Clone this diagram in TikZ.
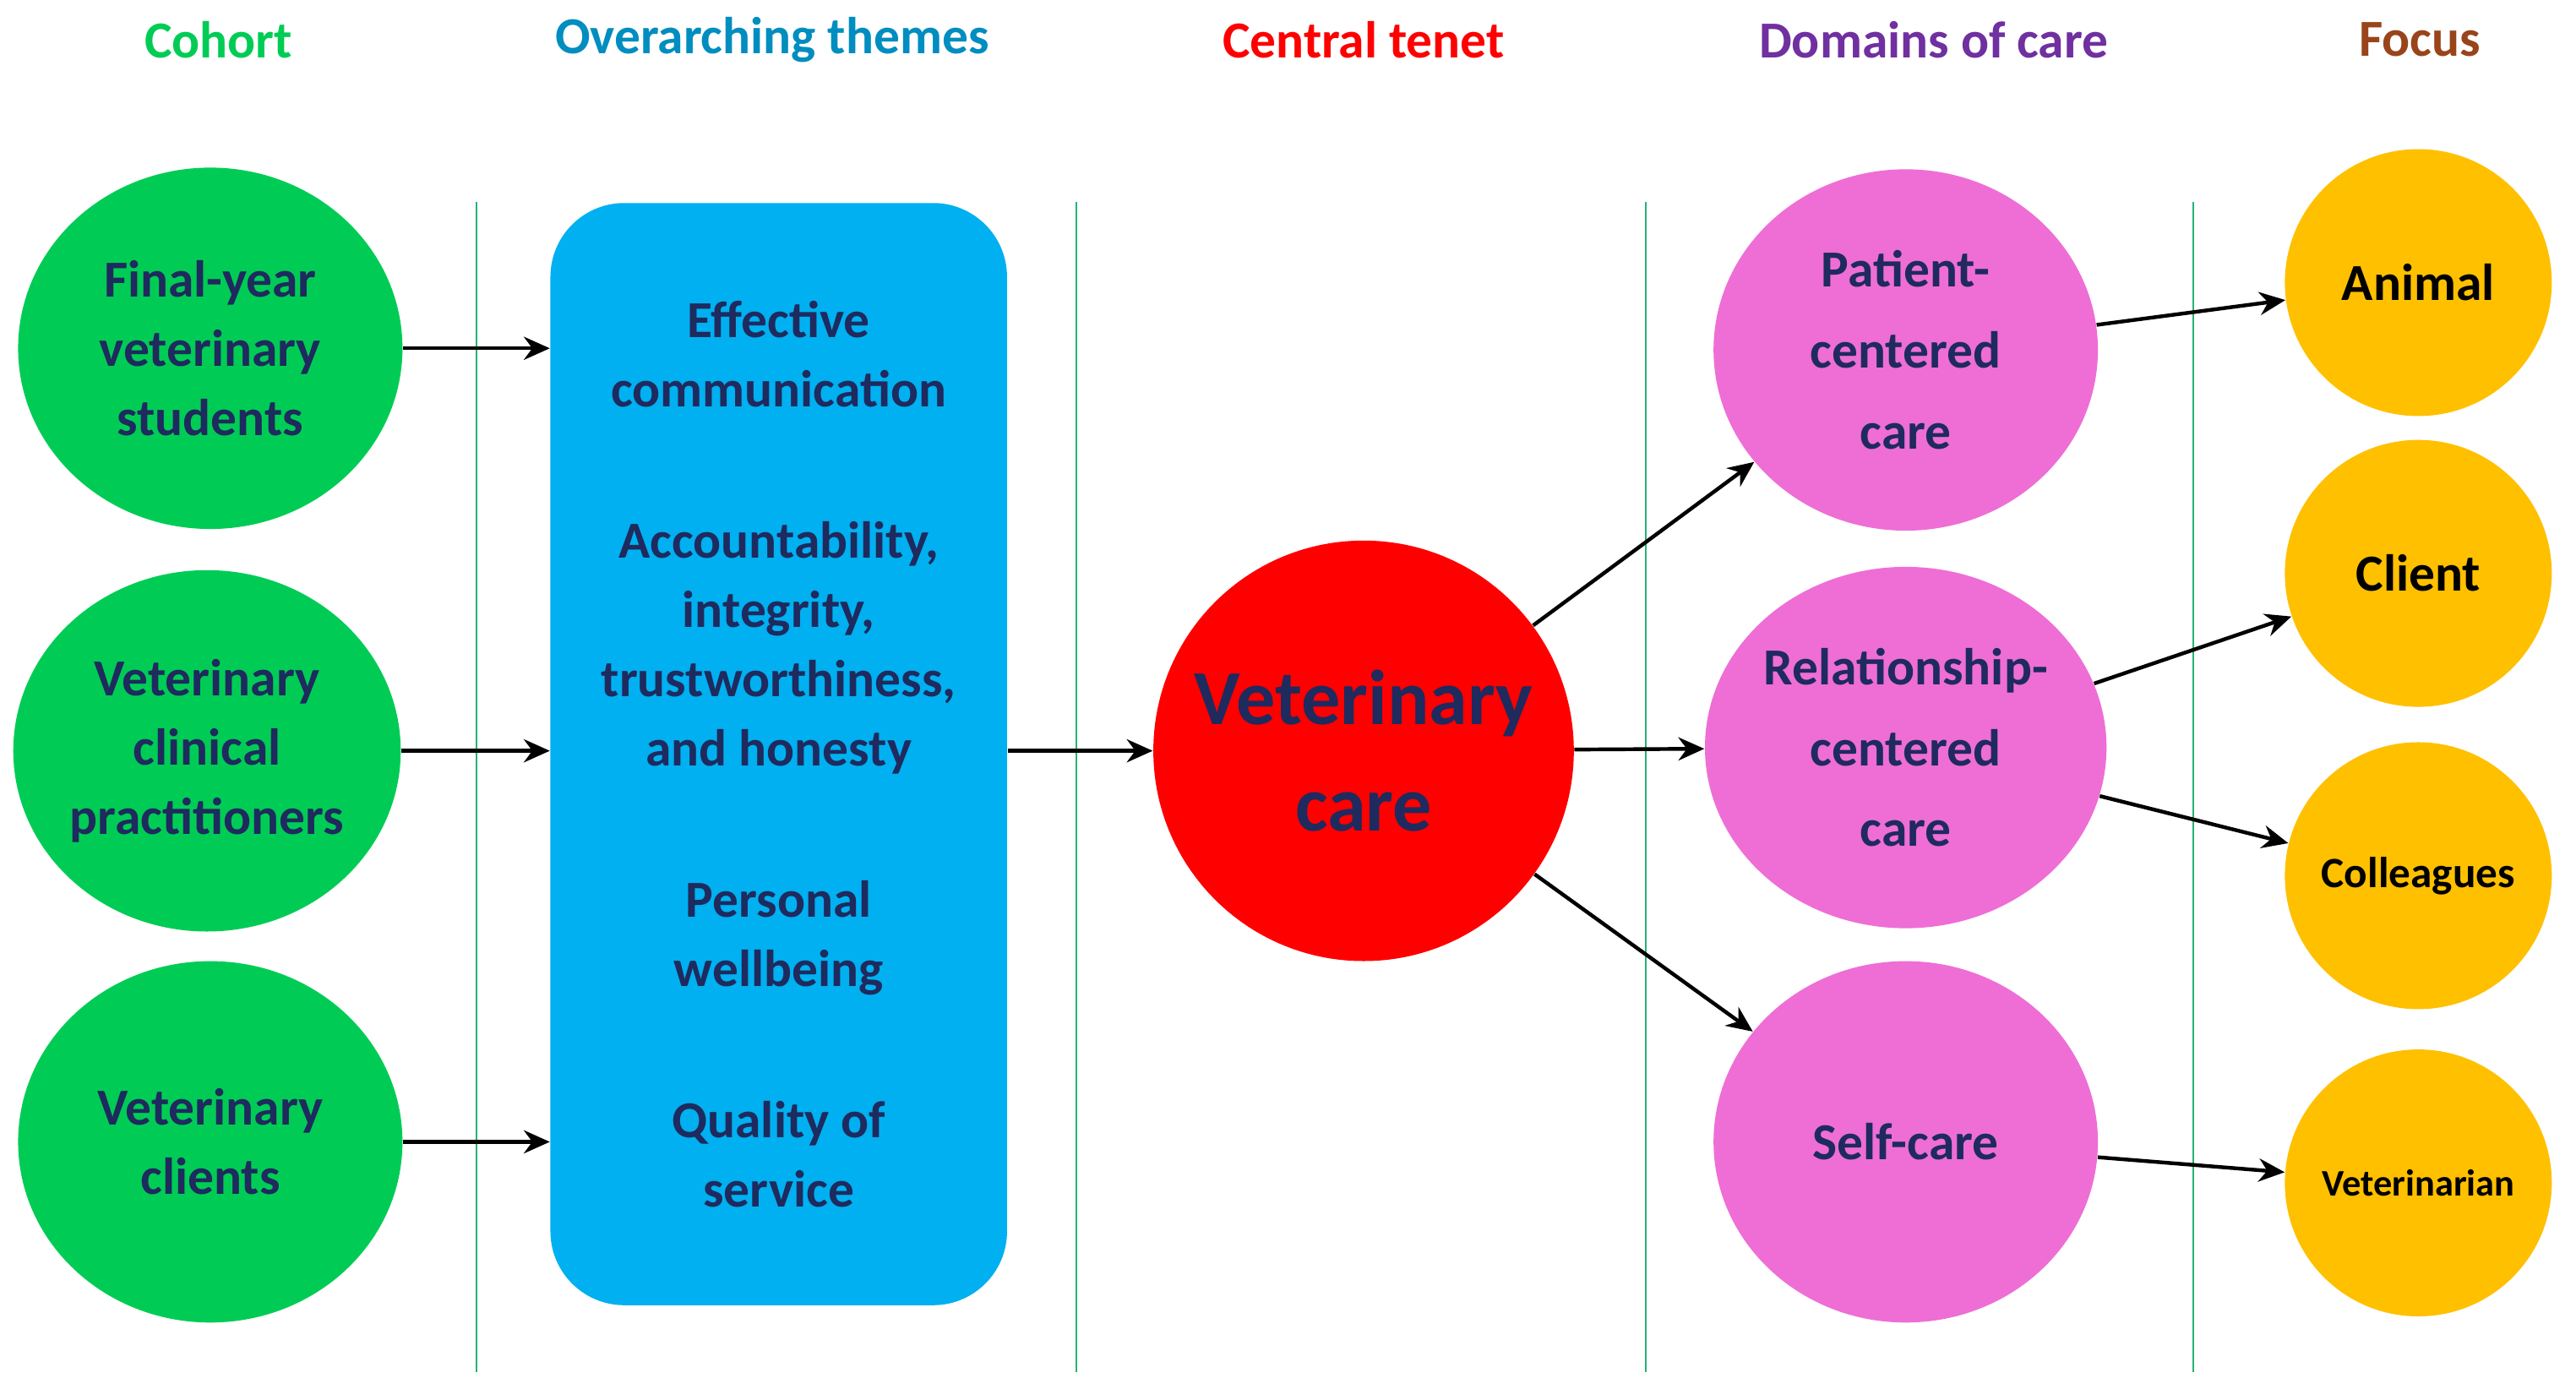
\documentclass[tikz,border=0pt]{standalone}
\usepackage{fontspec}
\setmainfont{Carlito}
\usetikzlibrary{arrows.meta, shapes, positioning}
\definecolor{cgreen}{HTML}{00CC55}
\definecolor{cblue}{HTML}{00B0F0}
\definecolor{cpink}{HTML}{EE6ED6}
\definecolor{corange}{HTML}{FFC000}
\definecolor{cnavy}{HTML}{1F2A5E}
\definecolor{cpurple}{HTML}{7030A0}
\definecolor{cbrown}{HTML}{99441A}
\definecolor{cline}{HTML}{22B573}
\begin{document}
\begin{tikzpicture}[x=0.02cm,y=-0.02cm,
  txt/.style={font=\fontsize{18}{24}\selectfont\bfseries, text=cnavy, align=center},
  head/.style={font=\fontsize{18}{22}\selectfont\bfseries},
  cohort/.style={ellipse, fill=cgreen, minimum width=4.68cm, minimum height=4.4cm, inner sep=0pt, txt},
  caredomain/.style={ellipse, fill=cpink, minimum width=4.68cm, minimum height=4.4cm, inner sep=0pt, txt, font=\fontsize{18}{28}\selectfont\bfseries},
  focus/.style={circle, fill=corange, minimum size=3.25cm, inner sep=0pt, txt, text=black},
  arr/.style={-{Stealth[length=9pt,width=8pt]}, line width=1.3pt},
  sep/.style={cline, line width=0.6pt}]
\useasboundingbox (0,0) rectangle (1568,852);
% headings
\node[head, text=cgreen] (h1) at (133,24) {Cohort};
\node[head, text=cblue!80!black] (h2) at (470,24) {Overarching themes};
\node[head, text=red] (h3) at (830,24) {Central tenet};
\node[head, text=cpurple] (h4) at (1177,24) {Domains of care};
\node[head, text=cbrown] (h5) at (1473,24) {Focus};
% separators
\foreach \x in {290,655,1002,1335}
  \draw[sep] (\x,123) -- (\x,835);
% cohort
\node[cohort] (c1) at (128,212) {Final-year\\veterinary\\students};
\node[cohort] (c2) at (126,457) {Veterinary\\clinical\\practitioners};
\node[cohort] (c3) at (128,695) {Veterinary\\clients};
% themes
\node[rectangle, rounded corners=0.9cm, fill=cblue, minimum width=5.56cm, minimum height=13.42cm, txt] (themes) at (474,459)
  {Effective\\communication\\[1.0cm]Accountability,\\integrity,\\trustworthiness,\\and honesty\\[1.0cm]Personal\\wellbeing\\[1.0cm]Quality of\\service};
% tenet
\node[circle, fill=red, minimum size=5.12cm, inner sep=0pt, txt, font=\fontsize{27}{37}\selectfont\bfseries] (vc) at (830,457) {Veterinary\\care};
% domains
\node[caredomain] (d1) at (1160,213) {Patient-\\centered\\care};
\node[caredomain] (d2) at (1160,455) {Relationship-\\centered\\care};
\node[caredomain] (d3) at (1160,695) {Self-care};
% focus
\node[focus] (f1) at (1472,172) {Animal};
\node[focus] (f2) at (1472,349) {Client};
\node[focus, font=\fontsize{15}{18}\selectfont\bfseries] (f3) at (1472,533) {Colleagues};
\node[focus, font=\fontsize{13}{16}\selectfont\bfseries] (f4) at (1472,720) {Veterinarian};
% arrows
\draw[arr] (c1) -- (themes.west |- c1);
\draw[arr] (c2) -- (themes.west |- c2);
\draw[arr] (c3) -- (themes.west |- c3);
\draw[arr] (themes.east |- vc) -- (vc);
\draw[arr] (vc) -- (d1);
\draw[arr] (vc) -- (d2);
\draw[arr] (vc) -- (d3);
\draw[arr] (d1) -- (f1);
\draw[arr] (d2) -- (f2);
\draw[arr] (d2) -- (f3);
\draw[arr] (d3) -- (f4);
\end{tikzpicture}
\end{document}
